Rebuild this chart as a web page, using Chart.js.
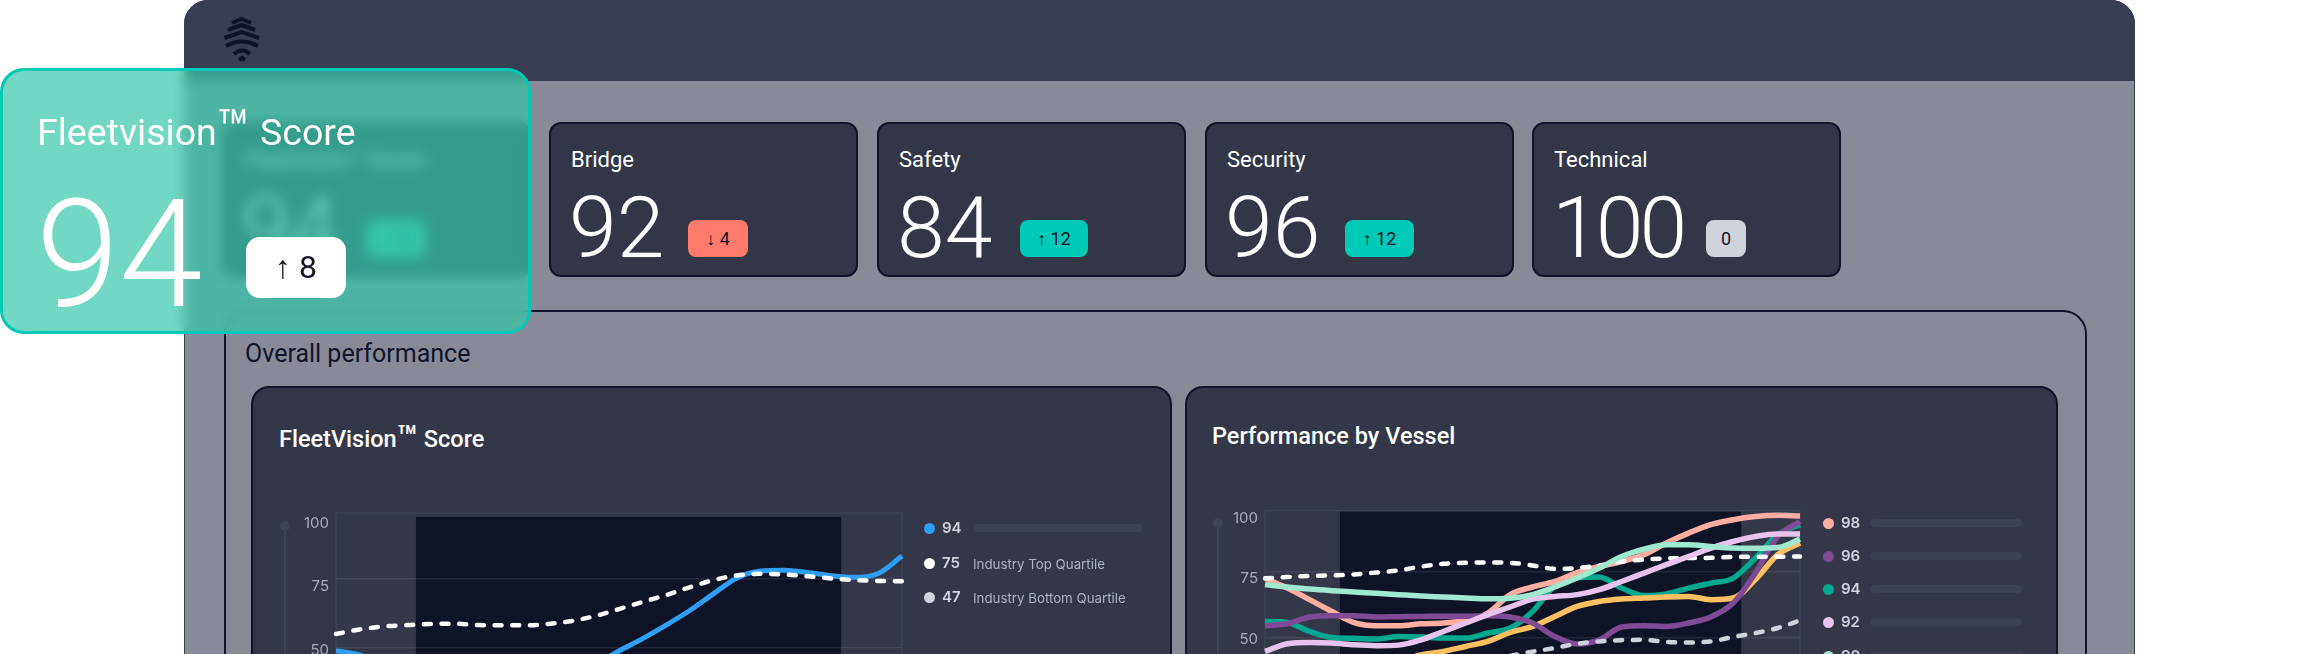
<!DOCTYPE html>
<html>
<head>
<meta charset="utf-8">
<title>Fleetvision</title>
<script src="https://cdn.jsdelivr.net/npm/chart.js@4"></script>
<style>
  html, body { margin: 0; width: 2320px; height: 654px; overflow: hidden; background: #fff; font-family: Roboto, sans-serif; }
  div, canvas, svg { position: absolute; box-sizing: border-box; }
  .tm { position: relative; font-size: 1.45em; line-height: 0; top: 0.06em; }
  .window { left: 184px; top: 0; width: 1951px; height: 800px; background: #888b97; border-radius: 24px 24px 0 0; border: 1px solid #3a3f54; }
  .header { left: -1px; top: -1px; width: 1951px; height: 81px; background: #383d51; border-radius: 24px 24px 0 0; }
  .card { top: 122px; height: 155px; width: 309px; background: #323647; border: 2px solid #10142a; border-radius: 12px; }
  .card-title { left: 20px; top: 23px; font-size: 22px; color: #fff; white-space: nowrap; }
  .card-score { left: 18px; top: 56px; font-size: 86px; font-weight: 300; color: #fff; line-height: 95px; }
  .badge { top: 96px; height: 37px; border-radius: 8px; color: #10142a; font-size: 18px; line-height: 37px; text-align: center; white-space: nowrap; }
  .overall { left: 224px; top: 310px; width: 1863px; height: 600px; border: 2px solid #10142a; border-radius: 24px; }
  .overall-title { left: 245px; top: 339px; font-size: 25px; color: #10142a; white-space: nowrap; }
  .panel { top: 386px; height: 500px; background: #333748; border: 2px solid #10142a; border-bottom: 0; border-radius: 18px 18px 0 0; }
  .panel-title { font-size: 23.5px; font-weight: 500; color: #fff; white-space: nowrap; }
  .axis-line { width: 2px; height: 180px; background: #3d4255; }
  .axis-dot { width: 10px; height: 10px; border-radius: 50%; background: #3d4255; }
  .dot { width: 11px; height: 11px; border-radius: 50%; }
  .num { font-family: Inter, sans-serif; font-size: 15px; font-weight: 600; line-height: 20px; color: #d0d3dc; }
  .label { font-family: Inter, sans-serif; font-size: 13.3px; line-height: 20px; color: #aeb2bf; white-space: nowrap; }
  .bar { height: 8px; border-radius: 4px; background: #3c4053; }
  .glass { left: 0; top: 68px; width: 531px; height: 266px; border: 3px solid #00c9b7; border-radius: 24px; background: rgba(54, 200, 170, 0.7); backdrop-filter: blur(7px); }
  .glass-title { left: 34px; top: 39px; font-size: 37.5px; color: #fff; white-space: nowrap; }
  .glass-score { left: 33px; top: 103px; font-size: 150px; font-weight: 300; line-height: 162px; color: #fff; }
  .glass-badge { left: 243px; top: 166px; width: 100px; height: 61px; background: #fff; border-radius: 14px; color: #10142a; font-size: 32px; line-height: 61px; text-align: center; }
</style>
</head>
<body>
<div class="window">
  <div class="header"></div>
</div>
<svg style="left:222px;top:17px" width="40" height="46" viewBox="0 0 40 46" fill="none" stroke="#10142a" stroke-width="4">
  <path d="M10 6 L19.5 2 L29 6"/>
  <path d="M6 13 L19.5 8 L33 13"/>
  <path d="M2.5 21 L19.5 15 L37 21"/>
  <path d="M4 29 Q20 20 36 29"/>
  <path d="M12 37 Q20 30 28 37"/>
  <path d="M17 43 L20 41 L23 43"/>
</svg>
<div class="overall"></div>
<div class="overall-title">Overall performance</div>

<div class="panel" style="left:251px;width:921px"></div>
<div class="panel" style="left:1185px;width:873px"></div>
<div class="panel-title" style="left:279px;top:425px">FleetVision<span class="tm">™</span> Score</div>
<div class="panel-title" style="left:1212px;top:422px">Performance by Vessel</div>

<div class="axis-line" style="left:284px;top:526px"></div>
<div class="axis-dot" style="left:280px;top:521px"></div>
<div class="axis-line" style="left:1217px;top:523px"></div>
<div class="axis-dot" style="left:1213px;top:518px"></div>

<canvas id="fleetChart" style="left:252px;top:490px"></canvas>
<canvas id="vesselChart" style="left:1186px;top:490px"></canvas>

<div id="cards"></div>
<div id="legends"></div>

<div class="glass">
  <div class="glass-title">Fleetvision<span class="tm">™</span> Score</div>
  <div class="glass-score">94</div>
  <div class="glass-badge">↑ 8</div>
</div>

<script>
// Stat cards along the top
const cardNames = ["Fleetvision™ Score", "Bridge", "Safety", "Security", "Technical"];
const cardScores = [94, 92, 84, 96, 100];
const cardDeltas = ["↑ 8", "↓ 4", "↑ 12", "↑ 12", "0"];
const cardBadgeColors = ["#2fc7ae", "#ff7b6b", "#00c9b7", "#00c9b7", "#d0d3dc"];

// Shared x axis, one point per period
const periods = [0, 1, 2, 3, 4, 5, 6, 7, 8, 9, 10, 11, 12, 13, 14, 15, 16, 17, 18, 19, 20, 21, 22, 23, 24];
const yTicks = [100, 75, 50, 25, 0];

// FleetVision Score chart
const fleetScore = [49, 47.5, 44, 41, 39, 38, 37, 37, 38, 39, 41, 44, 48.9, 53.4, 58.3, 63.6, 69.6, 75.4, 77.9, 78.2, 77.4, 76.2, 75.6, 77, 83.3];
const fleetTopQuartile = [55.1, 56.7, 57.8, 58.3, 58.7, 58.8, 58.3, 58.2, 58.2, 58.7, 59.8, 61.6, 64.1, 66.7, 69.2, 72, 74.6, 76.3, 76.9, 76.6, 76, 75.2, 74.6, 74.3, 74.2];
const fleetBottomQuartile = [34, 34, 35, 35, 36, 36, 37, 37, 38, 38, 39, 40, 41, 41, 42, 43, 43, 44, 44, 45, 45, 45, 46, 46, 46];
const fleetLegendValues = [94, 75, 47];
const fleetLegendLabels = ["", "Industry Top Quartile", "Industry Bottom Quartile"];

// Performance by Vessel chart
const vesselA = [72.5, 68.8, 64.4, 59.9, 55.7, 54.5, 54.5, 55.2, 55.5, 56.5, 59.3, 66.3, 69.2, 71.3, 74.7, 77, 78.9, 81.5, 85.9, 89.7, 92.9, 94.8, 96, 96.5, 96.2];
const vesselB = [54.5, 55.2, 57.8, 58.3, 58.3, 57.8, 57.9, 58, 58.1, 58.1, 58.3, 57.8, 55.5, 50.4, 47.5, 49.1, 54, 54.5, 54.2, 55.5, 57.8, 63.1, 74.5, 88.4, 94.1];
const vesselC = [56.1, 55.7, 52.3, 50, 49.7, 49.4, 50.4, 50.2, 49.8, 49.8, 51.7, 53.6, 59.9, 69.7, 72.8, 73, 68.8, 66, 66.6, 68.8, 70.7, 72.6, 80.2, 89.1, 92.9];
const vesselD = [44.7, 47.6, 48.1, 47.9, 47.2, 46.9, 47.1, 49.1, 52.3, 55.5, 58.7, 61.6, 64.6, 65.6, 66.3, 68.2, 71.3, 74.5, 77.7, 80.8, 84, 86.5, 88.4, 89.4, 89.4];
const vesselE = [70.1, 69.2, 68.4, 67.8, 67.3, 66.8, 66.3, 65.8, 65.4, 65, 64.7, 64.9, 66.3, 69.2, 72.6, 76.4, 80.8, 83.6, 85.3, 85.3, 84.6, 84, 83.9, 84.2, 87.4];
const vesselF = [30, 31, 32, 34, 36, 38, 41, 43.4, 44.7, 46.6, 48.5, 51.9, 54.2, 58, 61.8, 63.7, 64.6, 65, 65.4, 65.6, 64.4, 65, 72, 81.5, 85.9];
const vesselTopQuartile = [72.5, 73, 73.4, 73.6, 74, 74.7, 75.5, 77, 78, 78.4, 78.5, 78.4, 77.4, 76.1, 76.4, 77.4, 78.9, 79.6, 80.1, 80.2, 80.3, 80.6, 80.7, 80.7, 80.8];
const vesselBottomQuartile = [30, 31, 32, 33, 34, 35, 36, 37, 38, 39, 41, 43, 44.6, 46, 47.6, 48.5, 49, 49.1, 48.3, 48.1, 48.5, 50.2, 51.7, 53.6, 56.5];
const vesselLegendValues = [98, 96, 94, 92, 90];

const blue = "#2f9ef7";
const white = "#ffffff";
const grey = "#d0d3dc";
const salmon = "#ffaea4";
const purple = "#7f4b94";
const teal = "#00a88f";
const pink = "#e8c4ec";
const mint = "#a0e8d0";
const yellow = "#ffc062";

// Build the stat cards, the first one sits blurred behind the glass card
function buildCards() {
  const lefts = [222, 549, 877, 1205, 1532];
  const badgeLefts = [143, 137, 141, 138, 172];
  const badgeWidths = [58, 60, 68, 69, 40];
  const container = document.getElementById("cards");
  cardNames.forEach((name, i) => {
    const card = document.createElement("div");
    card.className = "card";
    card.style.left = lefts[i] + "px";
    // three digits run tighter in the original
    const tight = cardScores[i] >= 100 ? ' style="letter-spacing:-4px"' : "";
    card.innerHTML =
      '<div class="card-title">' + name + "</div>" +
      '<div class="card-score"' + tight + ">" + cardScores[i] + "</div>" +
      '<div class="badge" style="left:' + badgeLefts[i] + "px;width:" + badgeWidths[i] + "px;background:" + cardBadgeColors[i] + '">' + cardDeltas[i] + "</div>";
    container.appendChild(card);
  });
}

// Build one legend column next to a chart
function buildLegend(values, labels, colors, dotX, rowYs, barLeft, barRight) {
  const container = document.getElementById("legends");
  values.forEach((value, i) => {
    const y = rowYs[i];
    let html = '<div class="dot" style="left:' + (dotX - 5.5) + "px;top:" + (y - 5.5) + "px;background:" + colors[i] + '"></div>';
    html += '<div class="num" style="left:' + (dotX + 13) + "px;top:" + (y - 10) + 'px">' + value + "</div>";
    if (labels[i]) {
      html += '<div class="label" style="left:' + barLeft + "px;top:" + (y - 9) + 'px">' + labels[i] + "</div>";
    } else {
      html += '<div class="bar" style="left:' + barLeft + "px;top:" + (y - 4) + "px;width:" + (barRight - barLeft) + 'px"></div>';
    }
    container.insertAdjacentHTML("beforeend", html);
  });
}

// Dark band and thin frame behind the lines
const bandPlugin = {
  id: "bandFrame",
  beforeDraw(chart, args, opts) {
    const ctx = chart.ctx;
    const x = chart.scales.x;
    const y = chart.scales.y;
    const bandLeft = x.getPixelForValue(opts.start);
    const bandRight = x.getPixelForValue(opts.end);
    const bandTop = y.getPixelForValue(opts.bandTop);
    const frameTop = y.getPixelForValue(opts.frameTop);
    ctx.save();
    ctx.fillStyle = "#0e1326";
    ctx.fillRect(bandLeft, bandTop, bandRight - bandLeft, chart.chartArea.bottom - bandTop);
    ctx.strokeStyle = "#3d4154";
    ctx.lineWidth = 1.5;
    ctx.beginPath();
    ctx.moveTo(chart.chartArea.left, chart.chartArea.bottom);
    ctx.lineTo(chart.chartArea.left, frameTop);
    ctx.lineTo(chart.chartArea.right, frameTop);
    ctx.lineTo(chart.chartArea.right, chart.chartArea.bottom);
    ctx.stroke();
    ctx.restore();
  },
};

function lineSet(values, color, width, dashed) {
  return {
    data: periods.map((p, i) => ({ x: p, y: values[i] })),
    borderColor: color,
    borderWidth: width,
    borderDash: dashed ? [7, 10.7] : [],
    borderCapStyle: dashed ? "round" : "butt",
    pointRadius: 0,
    cubicInterpolationMode: "monotone",
    clip: false,
  };
}

function drawChart(id, width, height, padding, yLabelWidth, labelRange, band, datasets) {
  const canvas = document.getElementById(id);
  canvas.width = width;
  canvas.height = height;
  canvas.style.width = width + "px";
  canvas.style.height = height + "px";
  new Chart(canvas.getContext("2d"), {
    type: "line",
    data: { datasets: datasets },
    plugins: [bandPlugin],
    options: {
      responsive: false,
      animation: false,
      devicePixelRatio: 1,
      layout: { padding: padding },
      plugins: {
        legend: { display: false },
        tooltip: { enabled: false },
        bandFrame: band,
      },
      scales: {
        x: { type: "linear", min: periods[0], max: periods[periods.length - 1], display: false },
        // gridlines live on y, which is what the lines are plotted against
        y: {
          min: 0,
          max: 100,
          position: "left",
          ticks: { display: false },
          border: { display: false },
          grid: { color: "rgba(255,255,255,0.08)", lineWidth: 1.5, drawTicks: false },
          afterBuildTicks: (scale) => {
            scale.ticks = yTicks.slice(1).map((v) => ({ value: v }));
          },
          afterFit: (scale) => {
            scale.width = 0;
          },
        },
        // tick labels sit a little below their gridlines in the original
        yLabels: {
          min: labelRange[0],
          max: labelRange[1],
          position: "left",
          border: { display: false },
          grid: { display: false, drawTicks: false },
          ticks: { color: "#a9adbb", padding: 7, font: { family: "Inter", size: 15 }, autoSkip: false },
          afterBuildTicks: (scale) => {
            scale.ticks = yTicks.map((v) => ({ value: v }));
          },
          afterFit: (scale) => {
            scale.width = yLabelWidth;
          },
        },
      },
    },
  });
}

buildCards();
buildLegend(fleetLegendValues, fleetLegendLabels, [blue, white, grey], 929, [528, 563, 597], 973, 1142);
buildLegend(vesselLegendValues, ["", "", "", "", ""], [salmon, purple, teal, pink, mint], 1828, [523, 556, 589, 622, 656], 1870, 2022);

drawChart("fleetChart", 680, 320, { top: 20, right: 30, bottom: 24, left: 0 }, 84, [-3.54, 105.12],
  { start: 3.39, end: 21.42, bandTop: 97.5, frameTop: 98.9 },
  [
    lineSet(fleetTopQuartile, white, 4.5, true),
    lineSet(fleetBottomQuartile, grey, 4.5, true),
    lineSet(fleetScore, blue, 5, false),
  ]);

drawChart("vesselChart", 640, 300, { top: 16, right: 26, bottom: 21, left: 0 }, 79, [-3.86, 105.27],
  { start: 3.36, end: 21.36, bandTop: 98, frameTop: 98.2 },
  [
    lineSet(vesselE, mint, 5.5, false),
    lineSet(vesselD, pink, 5.5, false),
    lineSet(vesselTopQuartile, white, 4.5, true),
    lineSet(vesselBottomQuartile, grey, 4.5, true),
    lineSet(vesselB, purple, 5.5, false),
    lineSet(vesselA, salmon, 5.5, false),
    lineSet(vesselF, yellow, 5.5, false),
    lineSet(vesselC, teal, 5.5, false),
  ]);
</script>
</body>
</html>
